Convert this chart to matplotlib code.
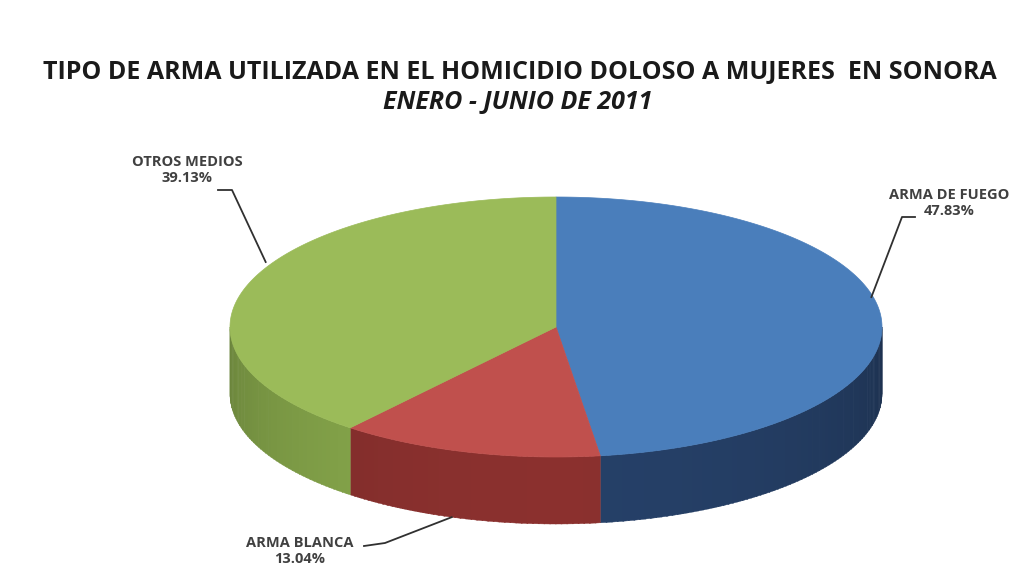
import numpy as np
import matplotlib.pyplot as plt
from matplotlib.patches import Polygon
import matplotlib.colors as mcolors

# data
categorias = ['ARMA DE FUEGO', 'ARMA BLANCA', 'OTROS MEDIOS']
porcentajes = [47.83, 13.04, 39.13]
colores_top = ['#4a7ebb', '#c0504d', '#9bbb59']
colores_lado = ['#223a5e', '#7e2c2a', '#7c9a45']

titulo = 'TIPO DE ARMA UTILIZADA EN EL HOMICIDIO DOLOSO A MUJERES  EN SONORA'
subtitulo = 'ENERO - JUNIO DE 2011'

# geometry of the 3d pie (pixel space)
cx, cy = 556, 327
a, b = 326, 130
depth = 67

fig = plt.figure(figsize=(10.31, 5.82), dpi=100)
ax = fig.add_axes([0, 0, 1, 1])
ax.set_xlim(0, 1031)
ax.set_ylim(582, 0)
ax.axis('off')

def pt(t, dy=0):
    return cx + a*np.cos(np.radians(t)), cy - b*np.sin(np.radians(t)) + dy

# slice angles, clockwise from 12 o'clock
bounds = [90.0]
for p in porcentajes:
    bounds.append(bounds[-1] - 360*p/100)

# side walls (front half only, angles between -180 and 0)
for i in range(len(porcentajes)):
    t1, t2 = bounds[i+1], bounds[i]
    base = np.array(mcolors.to_rgb(colores_lado[i]))
    for tt in np.arange(t1, t2, 1.0):
        s, e = tt, min(tt+1.2, t2)
        s2 = ((s + 180) % 360) - 180
        e2 = s2 + (e - s)
        if not (-180 <= s2 <= 0 or -180 <= e2 <= 0):
            continue
        s2, e2 = max(s2, -180), min(e2, 0)
        if e2 <= s2:
            continue
        ts = np.linspace(s2, e2, 4)
        top = [pt(t) for t in ts]
        bot = [pt(t, depth) for t in ts[::-1]]
        shade = 0.85 + 0.25*np.sin(np.radians(-(s2+e2)/2))
        c = np.clip(base*shade, 0, 1)
        ax.add_patch(Polygon(top + bot, closed=True, fc=c, ec=c, lw=0.3))

# top faces
for i in range(len(porcentajes)):
    ts = np.linspace(bounds[i], bounds[i+1], 200)
    verts = [(cx, cy)] + [pt(t) for t in ts]
    ax.add_patch(Polygon(verts, closed=True, fc=colores_top[i], ec=colores_top[i], lw=0.5))

# titles
ax.text(520, 72, titulo, ha='center', va='center', fontsize=18,
        fontweight='bold', family='Open Sans', color='#1a1a1a')
ax.text(518, 102, subtitulo, ha='center', va='center', fontsize=18,
        fontweight='bold', style='italic', family='Open Sans', color='#1a1a1a')

# labels and leader lines
lab = dict(ha='center', va='center', fontsize=10.5, fontweight='bold',
           family='Open Sans', color='#404040', linespacing=1.15)
tc = '#303030'

ax.text(949, 203, categorias[0] + '\n' + f'{porcentajes[0]:.2f}%', **lab)
x0, y0 = pt(3.5)
ax.plot([915, 902, x0-10], [217, 217, y0-22], color=tc, lw=1.3)

ax.text(300, 551, categorias[1] + '\n' + f'{porcentajes[1]:.2f}%', **lab)
mid = (bounds[1] + bounds[2]) / 2
x1, y1 = pt(mid - 3, depth)
ax.plot([364, 385, x1], [546, 543, y1], color=tc, lw=1.3)

ax.text(187, 170, categorias[2] + '\n' + f'{porcentajes[2]:.2f}%', **lab)
x2, y2 = pt(150)
ax.plot([218, 232, x2-8], [190, 190, y2], color=tc, lw=1.3)

fig.savefig('out.png', dpi=100, facecolor='white')
